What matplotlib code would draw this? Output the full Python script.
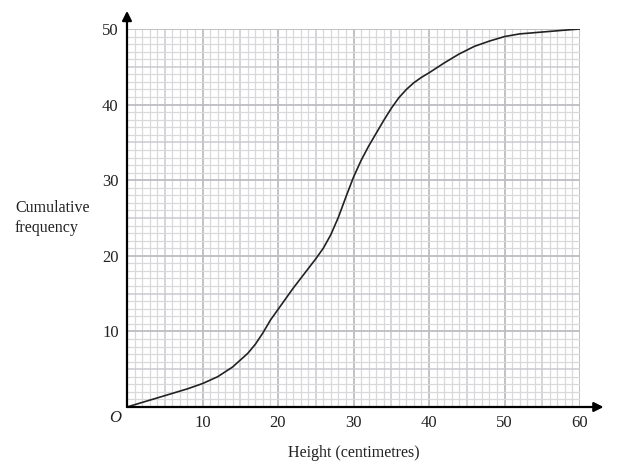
import matplotlib
matplotlib.use("Agg")
from matplotlib import pyplot as plt
import numpy as np

plt.rcParams['font.family'] = ['Liberation Serif', 'DejaVu Serif']

# values
height = [0, 2, 4, 6, 8, 10, 12, 14, 15, 16, 17, 18, 19, 20, 21, 22, 23, 24, 25,
          26, 27, 28, 29, 30, 31, 32, 33, 34, 35, 36, 37, 38, 39, 40, 42, 44,
          46, 48, 50, 52, 55, 58, 60]
cumfreq = [0, 0.6, 1.2, 1.8, 2.4, 3.1, 4.0, 5.3, 6.2, 7.1, 8.3, 9.8, 11.5, 12.9,
           14.3, 15.7, 17.0, 18.3, 19.6, 21.0, 22.8, 25.1, 27.8, 30.4, 32.6,
           34.5, 36.2, 37.9, 39.5, 40.9, 42.0, 42.9, 43.6, 44.2, 45.5, 46.7,
           47.7, 48.4, 49.0, 49.35, 49.6, 49.85, 50]

xticks = [10, 20, 30, 40, 50, 60]
yticks = [10, 20, 30, 40, 50]

fig = plt.figure(figsize=(6.28, 4.65), dpi=100)
ax = fig.add_axes([127/628, 1 - 407/465, 453/628, 378/465])
ax.set_xlim(0, 60)
ax.set_ylim(0, 50)

# graph paper grid
for v in range(0, 61):
    if v % 10 == 0:
        c, lw = '#bdbdc2', 1.3
    elif v % 5 == 0:
        c, lw = '#cacacf', 1.1
    else:
        c, lw = '#d9d9dc', 0.9
    ax.axvline(v, color=c, lw=lw, zorder=1)
for v in range(0, 51):
    if v % 10 == 0:
        c, lw = '#bdbdc2', 1.3
    elif v % 5 == 0:
        c, lw = '#cacacf', 1.1
    else:
        c, lw = '#d9d9dc', 0.9
    ax.axhline(v, color=c, lw=lw, zorder=1)

ax.plot(height, cumfreq, color='#222222', lw=1.2, zorder=3,
        solid_joinstyle='round')

for s in ax.spines.values():
    s.set_visible(False)
ax.set_xticks(xticks)
ax.set_yticks(yticks)
ax.tick_params(length=0, labelsize=12, colors='#222222', pad=6)

# axes with arrows
ax.annotate('', xy=(1.052, 0), xytext=(0, 0), xycoords='axes fraction',
            arrowprops=dict(arrowstyle='-|>', color='black', lw=1.6,
                            mutation_scale=14, shrinkA=0, shrinkB=0),
            annotation_clip=False, zorder=4)
ax.annotate('', xy=(0, 1.048), xytext=(0, 0), xycoords='axes fraction',
            arrowprops=dict(arrowstyle='-|>', color='black', lw=1.6,
                            mutation_scale=14, shrinkA=0, shrinkB=0),
            annotation_clip=False, zorder=4)

fig.text(115/628, 1 - 418/465, 'O', fontsize=12, style='italic',
         ha='center', va='center', color='#222222')
fig.text(15/628, 1 - 218/465, 'Cumulative\nfrequency', fontsize=11.5,
         ha='left', va='center', linespacing=1.3, color='#222222')
fig.text(354/628, 1 - 453/465, 'Height (centimetres)', fontsize=11.5,
         ha='center', va='center', color='#222222')

fig.savefig('out.png', dpi=100)
